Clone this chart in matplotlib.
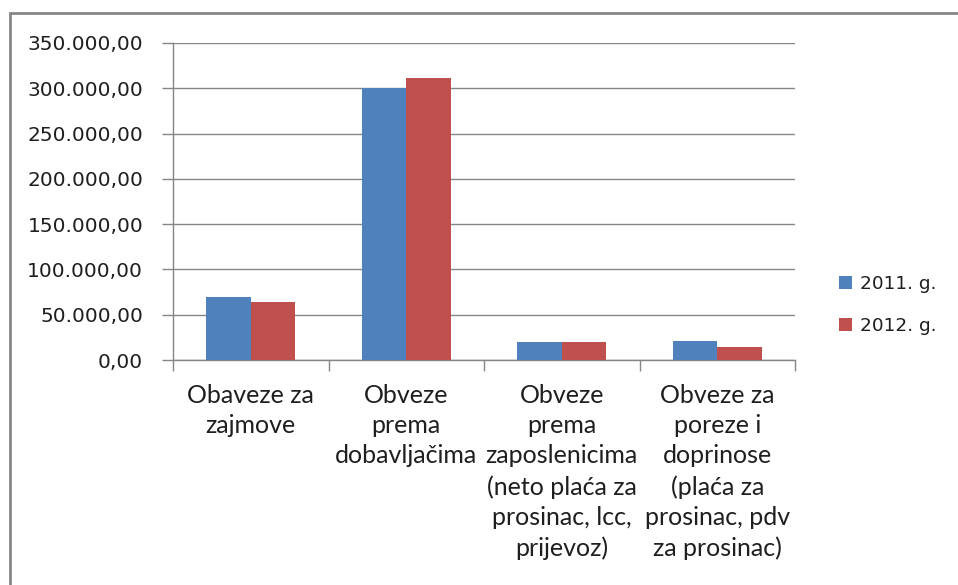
import matplotlib.pyplot as plt
import numpy as np
from matplotlib.patches import Rectangle
from matplotlib.ticker import FuncFormatter

kategorije = [
    "Obaveze za\nzajmove",
    "Obveze\nprema\ndobavljačima",
    "Obveze\nprema\nzaposlenicima\n(neto plaća za\nprosinac, lcc,\nprijevoz)",
    "Obveze za\nporeze i\ndoprinose\n(plaća za\nprosinac, pdv\nza prosinac)",
]
god_2011 = [70000, 300000, 20200, 21300]
god_2012 = [64000, 311000, 20200, 14700]
serije = ["2011. g.", "2012. g."]

plava = "#4F81BD"
crvena = "#C0504D"
siva = "#868686"
tekst = "#1f1f1f"


def format_hr(v, pos):
    s = f"{v:,.2f}"
    return s.replace(",", "X").replace(".", ",").replace("X", ".")


def main():
    fig = plt.figure(figsize=(9.58, 5.85), dpi=100)
    fig.patches.append(Rectangle((10 / 958, -0.1), 1.2, 1 - 13 / 585 + 0.1,
                                 transform=fig.transFigure, fill=False,
                                 edgecolor=siva, linewidth=2))

    ax = fig.add_axes([173 / 958, 1 - 360 / 585, (795 - 173) / 958, (360 - 43) / 585])
    x = np.arange(len(kategorije))
    w = 0.2857
    ax.bar(x - w / 2, god_2011, w, color=plava, label=serije[0], zorder=3)
    ax.bar(x + w / 2, god_2012, w, color=crvena, label=serije[1], zorder=3)

    ax.set_xlim(-0.5, len(kategorije) - 0.5)
    ax.set_ylim(0, 350000)
    ax.set_yticks(np.arange(0, 350001, 50000))
    ax.yaxis.set_major_formatter(FuncFormatter(format_hr))
    ax.grid(axis="y", color=siva, linewidth=1, zorder=0)

    ax.set_xticks(np.arange(-0.5, len(kategorije), 1))
    ax.set_xticklabels([])
    ax.set_xticks(x, minor=True)
    ax.set_xticklabels(kategorije, minor=True, fontsize=18, color=tekst,
                       family=["Lato", "DejaVu Sans"], linespacing=1.39,
                       va="top")
    ax.tick_params(axis="x", which="minor", length=0, pad=17)
    ax.tick_params(axis="x", which="major", length=8, color=siva, width=1)
    ax.tick_params(axis="y", length=8, color=siva, width=1, labelsize=14.5,
                   labelcolor=tekst, pad=13.5)

    for s in ["top", "right"]:
        ax.spines[s].set_visible(False)
    for s in ["left", "bottom"]:
        ax.spines[s].set_color(siva)
        ax.spines[s].set_linewidth(1)

    fig.legend(loc="center left", bbox_to_anchor=(822 / 958, 1 - 305 / 585),
               frameon=False, fontsize=13.3, handlelength=0.7, handleheight=0.7,
               handletextpad=0.45, labelspacing=1.3, labelcolor=tekst)

    fig.savefig("out.png", dpi=100)


if __name__ == "__main__":
    main()
